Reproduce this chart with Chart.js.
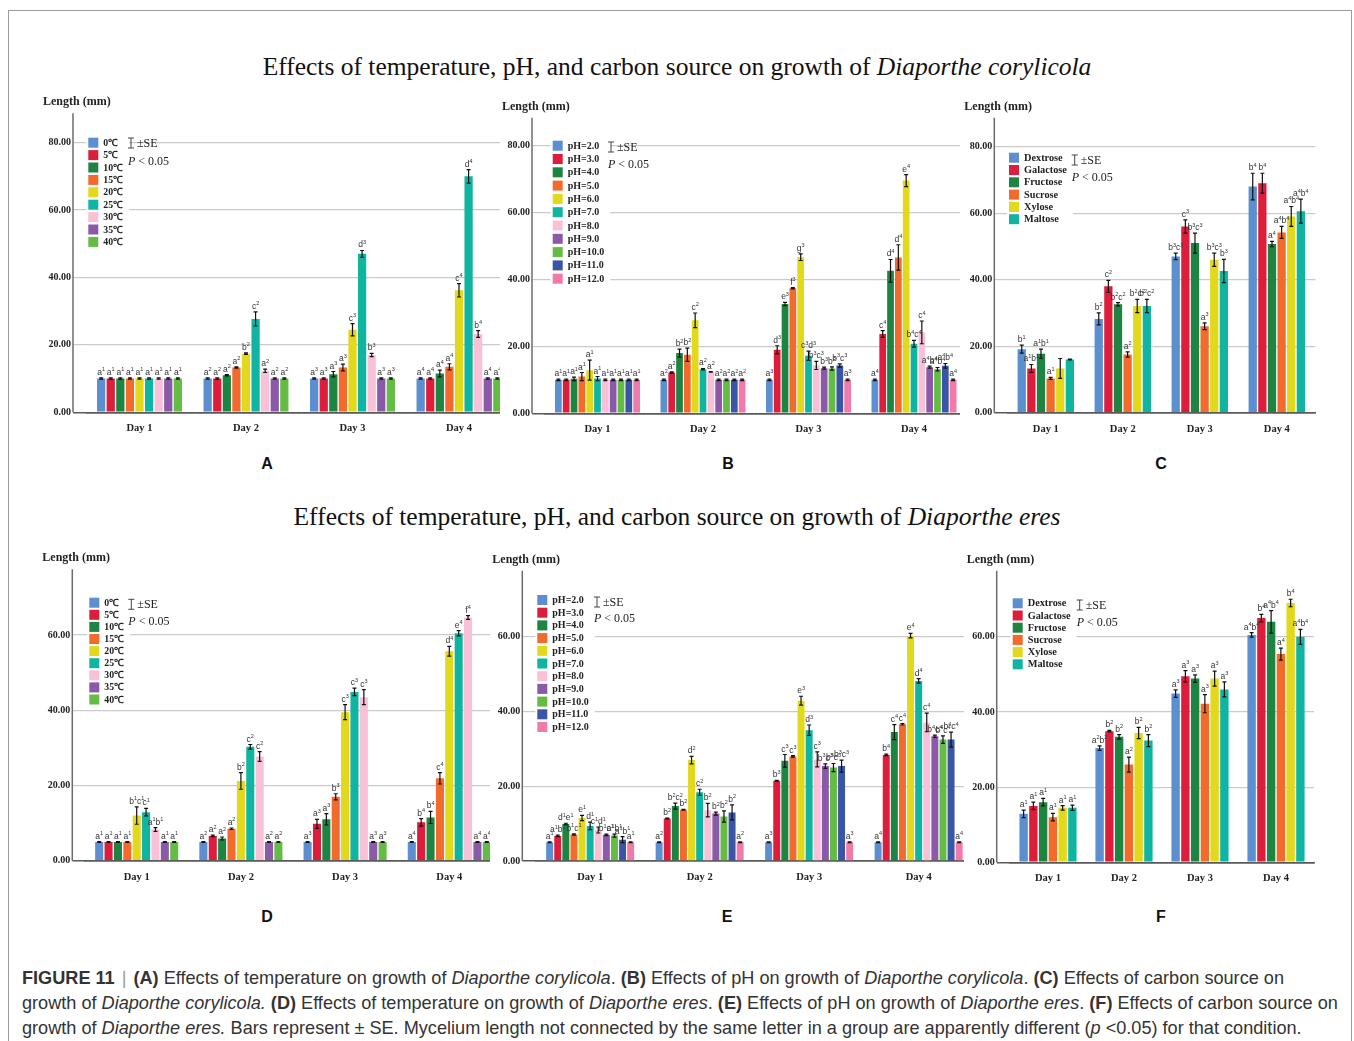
<!DOCTYPE html>
<html>
<head>
<meta charset="utf-8">
<script src="https://cdn.jsdelivr.net/npm/chart.js@4.4.0/dist/chart.umd.min.js"></script>
<style>
  body { margin: 0; background: #fff; }
  #page { position: relative; width: 1354px; height: 1041px; overflow: hidden; background: #fff; }
  #frame { position: absolute; left: 8px; top: 10px; width: 1344px; height: 1100px; border: 1px solid #9c9c9c; box-sizing: border-box; }
  .title { position: absolute; left: 0; width: 1354px; text-align: center; font-family: "Liberation Serif", serif; font-size: 25.5px; line-height: 30px; color: #111; white-space: nowrap; }
  .panel { position: absolute; font-family: "Liberation Sans", Arial, sans-serif; font-weight: bold; font-size: 16px; color: #111; transform: translate(-50%, -50%); }
  canvas { position: absolute; background: #fff; }
  #caption { position: absolute; left: 22px; top: 966px; font-family: "Liberation Sans", Arial, sans-serif; font-size: 18.14px; line-height: 25px; color: #333; white-space: nowrap; }
  #caption .sep { color: #999; font-weight: normal; padding: 0 2px; }
</style>
</head>
<body>
<div id="page">
  <div id="frame"></div>
  <div class="title" style="top:52px">Effects of temperature, pH, and carbon source on growth of <i>Diaporthe corylicola</i></div>
  <div class="title" style="top:502px">Effects of temperature, pH, and carbon source on growth of <i>Diaporthe eres</i></div>
  <div class="panel" style="left:267px;top:464px">A</div>
  <div class="panel" style="left:728px;top:464px">B</div>
  <div class="panel" style="left:1161px;top:464px">C</div>
  <div class="panel" style="left:267px;top:917px">D</div>
  <div class="panel" style="left:727px;top:917px">E</div>
  <div class="panel" style="left:1161px;top:917px">F</div>
  <div id="caption">
    <b>FIGURE 11</b> <span class="sep">|</span> <b>(A)</b> Effects of temperature on growth of <i>Diaporthe corylicola</i>. <b>(B)</b> Effects of pH on growth of <i>Diaporthe corylicola</i>. <b>(C)</b> Effects of carbon source on<br>
    growth of <i>Diaporthe corylicola.</i> <b>(D)</b> Effects of temperature on growth of <i>Diaporthe eres</i>. <b>(E)</b> Effects of pH on growth of <i>Diaporthe eres</i>. <b>(F)</b> Effects of carbon source on<br>
    growth of <i>Diaporthe eres.</i> Bars represent ± SE. Mycelium length not connected by the same letter in a group are apparently different (<i>p</i> &lt;0.05) for that condition.
  </div>
</div>
<script>
// Categories and series names
const days = ['Day 1', 'Day 2', 'Day 3', 'Day 4'];
const tempLabels = ['0℃', '5℃', '10℃', '15℃', '20℃', '25℃', '30℃', '35℃', '40℃'];
const phLabels = ['pH=2.0', 'pH=3.0', 'pH=4.0', 'pH=5.0', 'pH=6.0', 'pH=7.0', 'pH=8.0', 'pH=9.0', 'pH=10.0', 'pH=11.0', 'pH=12.0'];
const carbonLabels = ['Dextrose', 'Galactose', 'Fructose', 'Sucrose', 'Xylose', 'Maltose'];

const tempColors = ['#5b8fd0', '#dc1e3c', '#1e8442', '#f26a2c', '#e2d81c', '#0fb5a0', '#f8c1d8', '#8a5aa8', '#64bc44'];
const phColors = ['#5b8fd0', '#dc1e3c', '#1e8442', '#f26a2c', '#e2d81c', '#0fb5a0', '#f8c1d8', '#8a5aa8', '#64bc44', '#3a55a5', '#f07aaa'];
const carbonColors = ['#5b8fd0', '#dc1e3c', '#1e8442', '#f26a2c', '#e2d81c', '#0fb5a0'];

// A: temperature, D. corylicola (one row per day)
const aVals = [
  [10, 10, 10, 10, 10, 10, 10, 10, 10],
  [10, 10, 11, 13.3, 17.4, 27.7, 12.3, 10, 10],
  [10, 10, 11.3, 13.3, 24.5, 47, 17, 10, 10],
  [10, 10, 11.5, 13.5, 36.2, 70, 23.2, 10, 10]
];
const aSE = [
  [0.2, 0.2, 0.2, 0.2, 0.2, 0.2, 0.2, 0.2, 0.2],
  [0.2, 0.2, 0.2, 0.2, 0.2, 2.1, 0.5, 0.2, 0.2],
  [0.2, 0.2, 0.8, 1, 1.8, 1, 0.5, 0.2, 0.2],
  [0.2, 0.2, 1, 0.9, 2, 2, 1, 0.2, 0.2]
];
const aLetters = [
  ['a1', 'a1', 'a1', 'a1', 'a1', 'a1', 'a1', 'a1', 'a1'],
  ['a2', 'a2', 'a2', 'a2', 'b2', 'c2', 'a2', 'a2', 'a2'],
  ['a3', 'a3', 'a3', 'a3', 'c3', 'd3', 'b3', 'a3', 'a3'],
  ['a4', 'a4', 'a4', 'a4', 'c4', 'd4', 'b4', 'a4', 'a4']
];

// B: pH, D. corylicola
const bVals = [
  [10, 10, 10.3, 11, 12.9, 10.4, 10, 10, 10, 10, 10],
  [10, 12.2, 18, 17.5, 27.8, 13.2, 12.4, 10, 10, 10, 10],
  [10, 19, 32.7, 37.4, 46.7, 17.2, 14.3, 13.5, 13.4, 14.3, 10],
  [10, 23.7, 42.6, 46.6, 69.6, 20.8, 24.2, 13.8, 13.2, 14.2, 10]
];
const bSE = [
  [0.2, 0.2, 0.5, 1.2, 3, 0.6, 0.2, 0.2, 0.2, 0.2, 0.2],
  [0.2, 0.2, 1.2, 2, 2.2, 0.2, 0.1, 0.2, 0.2, 0.2, 0.2],
  [0.2, 1.2, 0.5, 0.2, 1, 1.4, 1.2, 0.3, 0.5, 0.5, 0.2],
  [0.2, 1, 3.4, 3.8, 1.8, 1, 3.4, 0.3, 0.5, 0.7, 0.2]
];
const bLetters = [
  ['a1', 'a1', 'a1', 'a1', 'a1', 'a1', 'a1', 'a1', 'a1', 'a1', 'a1'],
  ['a2', 'a2', 'b2', 'b2', 'c2', 'a2', 'a2', 'a2', 'a2', 'a2', 'a2'],
  ['a3', 'd3', 'e3', 'f3', 'g3', 'c3d3', 'b3c3', 'b3', 'b3', 'b3c3', 'a3'],
  ['a4', 'c4', 'd4', 'd4', 'e4', 'b4c4', 'c4', 'a4b4', 'a4b4', 'a4b4', 'a4']
];

// C: carbon source, D. corylicola
const cVals = [
  [19.1, 13.3, 17.7, 10.3, 13.3, 16.0],
  [28.2, 38, 32.6, 17.5, 32.1, 32.1],
  [47, 56, 51, 26, 46, 42.6],
  [68, 69, 50.7, 54.2, 59, 60.6]
];
const cSE = [
  [1.2, 1.2, 1.4, 0.3, 3, 0.15],
  [1.8, 1.8, 0.5, 0.8, 2, 2],
  [1, 2, 3, 1, 2, 3.5],
  [4, 3, 0.8, 1.8, 3, 3.6]
];
const cLetters = [
  ['b1', 'a1b1', 'a1b1', 'a1', '', ''],
  ['b2', 'c2', 'b2c2', 'a2', 'b2c2', 'b2c2'],
  ['b3c3', 'c3', 'b3c3', 'a3', 'b3c3', 'b3'],
  ['b4', 'b4', 'a4', 'a4b4', 'a4b4', 'a4b4']
];

// D: temperature, D. eres
const dVals = [
  [5, 5, 5, 5, 12, 12.9, 8.3, 5, 5],
  [5, 6.6, 5.9, 8.5, 21.2, 30.3, 27.7, 5, 5],
  [5, 9.8, 11, 17, 39.5, 44.9, 43.5, 5, 5],
  [5, 10.2, 11.5, 21.9, 55.7, 60.5, 64.7, 5, 5]
];
const dSE = [
  [0.1, 0.1, 0.1, 0.1, 2.3, 1, 0.5, 0.1, 0.1],
  [0.1, 0.2, 0.4, 0.2, 2.2, 0.6, 1.3, 0.1, 0.1],
  [0.1, 1.2, 1.5, 0.8, 2, 1, 2, 0.1, 0.1],
  [0.1, 1, 1.6, 1.5, 1.3, 0.7, 0.5, 0.1, 0.1]
];
const dLetters = [
  ['a1', 'a1', 'a1', 'a1', 'b1c1', 'c1', 'a1b1', 'a1', 'a1'],
  ['a2', 'a2', 'a2', 'a2', 'b2', 'c2', 'c2', 'a2', 'a2'],
  ['a3', 'a3', 'a3', 'b3', 'c3', 'c3', 'c3', 'a3', 'a3'],
  ['a4', 'b4', 'b4', 'c4', 'd4', 'e4', 'f4', 'a4', 'a4']
];

// E: pH, D. eres
const eVals = [
  [5, 6.7, 9.9, 7.1, 11.5, 9.4, 8.3, 7, 6.8, 5.7, 5],
  [5, 11.4, 14.7, 13.7, 27, 18.4, 13.6, 12.7, 11.9, 13, 5],
  [5, 21.5, 26.8, 28, 42.9, 35, 27.2, 25.4, 25, 25.4, 5],
  [5, 28.4, 34.5, 36.6, 60.3, 48.2, 37.1, 33.4, 32.5, 32.5, 5]
];
const eSE = [
  [0.1, 0.2, 0.2, 0.2, 0.7, 1, 0.8, 0.2, 0.4, 0.8, 0.1],
  [0.1, 0.1, 0.8, 0.1, 1, 0.8, 1.8, 0.4, 1.5, 2, 0.1],
  [0.1, 0.1, 1.7, 0.2, 1.2, 1.4, 2, 0.6, 1.1, 1.6, 0.1],
  [0.1, 0.2, 2, 0.2, 0.6, 0.6, 2.5, 0.3, 1, 2, 0.1]
];
const eLetters = [
  ['a1', 'a1b1', 'd1e1', 'b1c1', 'e1', 'd1', 'c1d1', 'b1c1', 'a1b1', 'a1b1', 'a1'],
  ['a2', 'b2', 'b2c2', 'b2', 'd2', 'c2', 'b2', 'b2', 'b2', 'b2', 'a2'],
  ['a3', 'b3', 'c3', 'c3', 'e3', 'd3', 'c3', 'b3c3', 'b3c3', 'b3c3', 'a3'],
  ['a4', 'b4', 'c4', 'c4', 'e4', 'd4', 'c4', 'b4c4', 'b4c4', 'b4c4', 'a4']
];

// F: carbon source, D. eres
const fVals = [
  [12.9, 15, 16, 12, 14.5, 14.5],
  [30.4, 34.9, 33.4, 26, 34.4, 32.4],
  [44.9, 49.5, 48.9, 42.2, 48.9, 46],
  [60.5, 65, 64, 55.4, 69, 60]
];
const fSE = [
  [1, 1, 1, 1, 0.6, 0.7],
  [0.6, 0.2, 0.6, 2, 1.5, 1.6],
  [1, 1.5, 1, 2.4, 2, 2],
  [0.6, 1, 3, 1.6, 1, 2]
];
const fLetters = [
  ['a1', 'a1', 'a1', 'a1', 'a1', 'a1'],
  ['a2b2', 'b2', 'b2', 'a2', 'b2', 'b2'],
  ['a3', 'a3', 'a3', 'a3', 'a3', 'a3'],
  ['a4b4', 'b4', 'a4b4', 'a4', 'b4', 'a4b4']
];

// Draws letters with raised small digits, e.g. "b3c3"
function drawLetters(ctx, str, cx, y) {
  const parts = str.match(/[a-z]\d?/g) || [];
  const big = '8.5px "Liberation Sans", Arial, sans-serif';
  const small = '5.5px "Liberation Sans", Arial, sans-serif';
  let w = 0;
  parts.forEach(p => {
    ctx.font = big; w += ctx.measureText(p[0]).width;
    if (p[1]) { ctx.font = small; w += ctx.measureText(p[1]).width; }
  });
  let x = cx - w / 2;
  ctx.textAlign = 'left';
  ctx.textBaseline = 'alphabetic';
  parts.forEach(p => {
    ctx.font = big; ctx.fillText(p[0], x, y); x += ctx.measureText(p[0]).width;
    if (p[1]) { ctx.font = small; ctx.fillText(p[1], x, y - 3.5); x += ctx.measureText(p[1]).width; }
  });
}

// Axis line, legend, error bars and letters
const extras = {
  id: 'extras',
  afterDatasetsDraw(chart, args, o) {
    const ctx = chart.ctx;
    const area = chart.chartArea;
    const ys = chart.scales.y;
    const ax = o.axisX - o.L;
    ctx.save();

    ctx.strokeStyle = '#6b6b6b';
    ctx.lineWidth = 1.5;
    ctx.beginPath();
    ctx.moveTo(ax, area.top);
    ctx.lineTo(ax, area.bottom);
    ctx.stroke();

    ctx.fillStyle = '#222';
    ctx.font = 'bold 12px "Liberation Serif", serif';
    ctx.textAlign = 'left';
    ctx.textBaseline = 'middle';
    ctx.fillText('Length (mm)', ax - 30, area.top - 11);

    // legend
    const lg = o.legend;
    const lx = lg.x - o.L, ly = lg.y - o.T;
    ctx.font = 'bold ' + lg.font + 'px "Liberation Serif", serif';
    let tw = 0;
    o.names.forEach(n => { tw = Math.max(tw, ctx.measureText(n).width); });
    ctx.fillStyle = '#fff';
    ctx.fillRect(lx - 2, ly - lg.dy / 2, 15 + tw + 8, lg.dy * o.names.length);
    o.names.forEach((n, i) => {
      const yy = ly + i * lg.dy;
      ctx.fillStyle = o.colors[i];
      ctx.fillRect(lx, yy - 5, 10, 10);
      ctx.fillStyle = '#222';
      ctx.fillText(n, lx + 15, yy + 0.5);
    });

    // "I ±SE" and P < 0.05
    const sx = lg.sx - o.L, sy = lg.sy - o.T;
    ctx.strokeStyle = '#444';
    ctx.lineWidth = 1;
    ctx.beginPath();
    ctx.moveTo(sx + 3, sy - 5); ctx.lineTo(sx + 3, sy + 5);
    ctx.moveTo(sx, sy - 5); ctx.lineTo(sx + 6, sy - 5);
    ctx.moveTo(sx, sy + 5); ctx.lineTo(sx + 6, sy + 5);
    ctx.stroke();
    ctx.fillStyle = '#222';
    ctx.font = '12px "Liberation Serif", serif';
    ctx.fillText('±SE', sx + 9, sy + 1);
    const py = lg.py - o.T;
    ctx.font = 'italic 12px "Liberation Serif", serif';
    ctx.fillText('P', sx, py);
    const pw = ctx.measureText('P').width;
    ctx.font = '12px "Liberation Serif", serif';
    ctx.fillText(' < 0.05', sx + pw, py);

    // error bars with letters
    chart.data.datasets.forEach((ds, i) => {
      const meta = chart.getDatasetMeta(i);
      meta.data.forEach((bar, j) => {
        const v = ds.data[j], e = ds.se[j];
        const yt = ys.getPixelForValue(v + e);
        const yb = ys.getPixelForValue(v - e);
        ctx.strokeStyle = '#111';
        ctx.lineWidth = 1.2;
        ctx.beginPath();
        ctx.moveTo(bar.x, yt); ctx.lineTo(bar.x, yb);
        ctx.moveTo(bar.x - 2, yt); ctx.lineTo(bar.x + 2, yt);
        ctx.moveTo(bar.x - 2, yb); ctx.lineTo(bar.x + 2, yb);
        ctx.stroke();
        ctx.fillStyle = '#333';
        if (ds.letters[j]) drawLetters(ctx, ds.letters[j], bar.x, yt - 3);
      });
    });
    ctx.restore();
  }
};

function makeChart(p, names, colors, vals, se, letters) {
  const cv = document.createElement('canvas');
  cv.width = p.W;
  cv.height = p.H;
  cv.style.left = p.L + 'px';
  cv.style.top = p.T + 'px';
  document.getElementById('page').appendChild(cv);
  const cl = p.axisX + p.gap;
  const cr = cl + 4 * p.catW;

  const datasets = names.map((name, i) => ({
    label: name,
    data: vals.map(d => d[i]),
    se: se.map(d => d[i]),
    letters: letters.map(d => d[i]),
    backgroundColor: colors[i],
    borderWidth: 0,
    categoryPercentage: p.catPct,
    barPercentage: 0.86
  }));

  return new Chart(cv, {
    type: 'bar',
    data: { labels: days, datasets: datasets },
    options: {
      responsive: false,
      animation: false,
      events: [],
      layout: { padding: { top: p.ct - p.T, right: p.L + p.W - cr, left: 0, bottom: 0 } },
      scales: {
        x: {
          afterFit: s => { s.height = p.T + p.H - p.cb; },
          grid: { display: false },
          border: { display: true, color: '#5a5a5a', width: 1.5 },
          ticks: { color: '#222', padding: 2, font: { family: 'Liberation Serif', weight: 'bold', size: 10.5 } }
        },
        y: {
          min: 0,
          max: p.ymax,
          afterFit: s => { s.width = cl - p.L; },
          afterBuildTicks: s => { s.ticks = s.ticks.filter(t => t.value % 20 === 0); },
          border: { display: false },
          grid: {
            color: c => (c.tick && c.tick.value === 0) ? '#5a5a5a' : '#cacaca',
            lineWidth: c => (c.tick && c.tick.value === 0) ? 1.5 : 1.2,
            tickLength: p.gap
          },
          ticks: {
            stepSize: 20,
            padding: 2,
            color: '#222',
            callback: v => Number(v).toFixed(2),
            font: { family: 'Liberation Serif', weight: 'bold', size: 10 }
          }
        }
      },
      plugins: {
        legend: { display: false },
        tooltip: { enabled: false },
        extras: Object.assign({}, p, { names: names, colors: colors })
      }
    },
    plugins: [extras]
  });
}

// Panel placement on the page
const layoutA = { L: 30, T: 90, W: 485, H: 350, axisX: 73, gap: 13.25, catW: 106.5, ct: 113.3, cb: 412.3, ymax: 88.7, catPct: 0.81,
  legend: { x: 88.3, y: 142.7, dy: 12.4, font: 9.8, sx: 128, sy: 143, py: 162 } };
const layoutB = { L: 500, T: 90, W: 470, H: 350, axisX: 532, gap: 12.75, catW: 105.5, ct: 117.7, cb: 413.3, ymax: 88.4, catPct: 0.816,
  legend: { x: 552.7, y: 145.7, dy: 13.3, font: 10, sx: 608, sy: 147, py: 165 } };
const layoutC = { L: 960, T: 90, W: 390, H: 350, axisX: 994.3, gap: 13, catW: 77, ct: 117.7, cb: 412.7, ymax: 88.7, catPct: 0.75,
  legend: { x: 1009, y: 157.7, dy: 12.3, font: 10.3, sx: 1071.7, sy: 160, py: 177.7 } };
const layoutD = { L: 30, T: 545, W: 475, H: 345, axisX: 72.3, gap: 12.3, catW: 104.2, ct: 569.3, cb: 860.7, ymax: 77.5, catPct: 0.81,
  legend: { x: 89.3, y: 602.7, dy: 12.1, font: 9.8, sx: 128.3, sy: 604.3, py: 622.3 } };
const layoutE = { L: 490, T: 545, W: 490, H: 345, axisX: 522.3, gap: 13.1, catW: 109.5, ct: 570.7, cb: 861, ymax: 77.7, catPct: 0.814,
  legend: { x: 537.3, y: 600, dy: 12.7, font: 10, sx: 594, sy: 602, py: 619 } };
const layoutF = { L: 964, T: 545, W: 386, H: 345, axisX: 996.7, gap: 13.3, catW: 76, ct: 570.7, cb: 862.3, ymax: 77.6, catPct: 0.77,
  legend: { x: 1012.7, y: 603.3, dy: 12.2, font: 10.3, sx: 1076.7, sy: 605, py: 623.3 } };

makeChart(layoutA, tempLabels, tempColors, aVals, aSE, aLetters);
makeChart(layoutB, phLabels, phColors, bVals, bSE, bLetters);
makeChart(layoutC, carbonLabels, carbonColors, cVals, cSE, cLetters);
makeChart(layoutD, tempLabels, tempColors, dVals, dSE, dLetters);
makeChart(layoutE, phLabels, phColors, eVals, eSE, eLetters);
makeChart(layoutF, carbonLabels, carbonColors, fVals, fSE, fLetters);
</script>
</body>
</html>
